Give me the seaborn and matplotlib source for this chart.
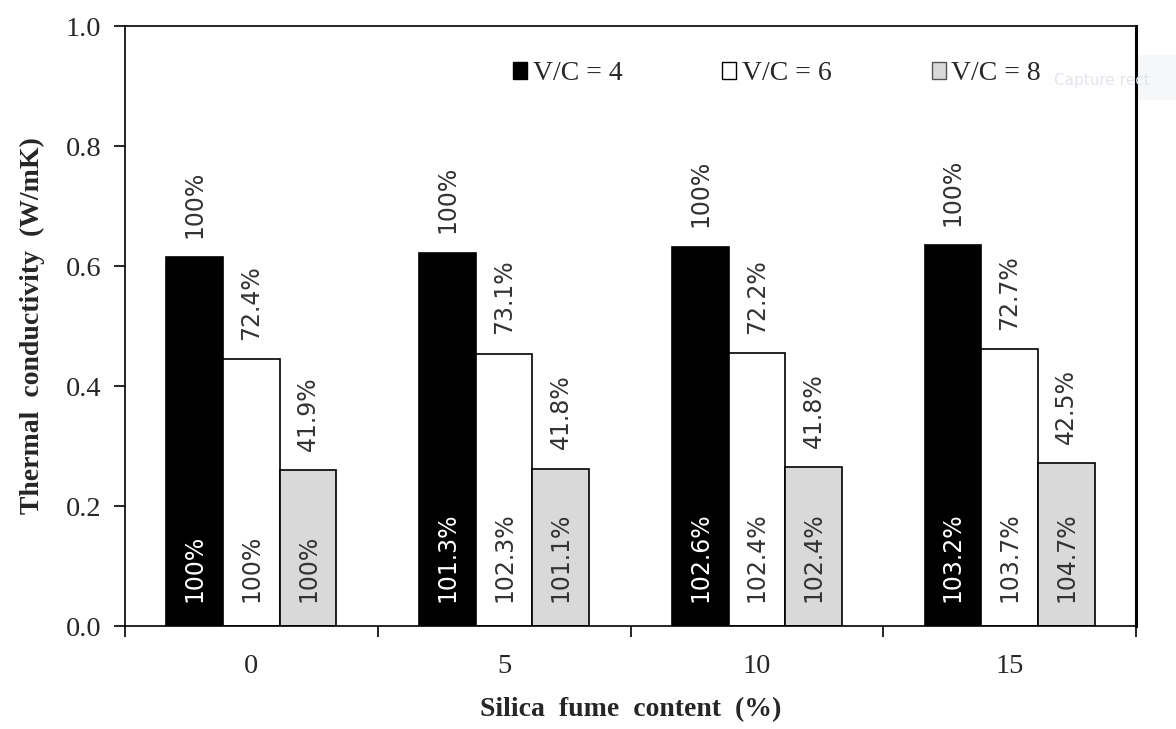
import matplotlib
matplotlib.use("Agg")
import matplotlib.pyplot as plt
from matplotlib.patches import Patch, Rectangle
import seaborn as sns
import pandas as pd

# ---- data ----
categories = ["0", "5", "10", "15"]
series_names = ["V/C = 4", "V/C = 6", "V/C = 8"]
vc4 = [0.615, 0.622, 0.632, 0.635]
vc6 = [0.445, 0.454, 0.455, 0.461]
vc8 = [0.260, 0.262, 0.265, 0.271]
top_labels = [
    ["100%", "100%", "100%", "100%"],
    ["72.4%", "73.1%", "72.2%", "72.7%"],
    ["41.9%", "41.8%", "41.8%", "42.5%"],
]
bottom_labels = [
    ["100%", "101.3%", "102.6%", "103.2%"],
    ["100%", "102.3%", "102.4%", "103.7%"],
    ["100%", "101.1%", "102.4%", "104.7%"],
]
colors = ["#000000", "#ffffff", "#d9d9d9"]
inner_text_colors = ["white", "#333333", "#333333"]

rows = []
for name, vals in zip(series_names, [vc4, vc6, vc8]):
    for c, v in zip(categories, vals):
        rows.append({"content": c, "k": v, "vc": name})
df = pd.DataFrame(rows)

sns.set_theme(style="white")
plt.rcParams["font.family"] = ["Liberation Serif", "DejaVu Serif"]

fig = plt.figure(figsize=(11.76, 7.29), dpi=100)
ax = fig.add_axes([125 / 1176, 1 - 626 / 729, 1011 / 1176, 600 / 729])

sns.barplot(data=df, x="content", y="k", hue="vc", order=categories,
            hue_order=series_names, palette=colors, width=0.673, gap=0,
            edgecolor="black", linewidth=1.2, saturation=1, legend=False, ax=ax)

# annotations
for i, cont in enumerate(ax.containers):
    for j, bar in enumerate(cont):
        xc = bar.get_x() + bar.get_width() / 2
        h = bar.get_height()
        ax.annotate(top_labels[i][j], (xc, h), xytext=(0, 14),
                    textcoords="offset points", rotation=90, ha="center",
                    va="bottom", fontsize=17, family="DejaVu Sans",
                    color="#333333")
        ax.annotate(bottom_labels[i][j], (xc, 0), xytext=(0, 17),
                    textcoords="offset points", rotation=90, ha="center",
                    va="bottom", fontsize=17, family="DejaVu Sans",
                    color=inner_text_colors[i])

ax.set_ylim(0, 1.0)
ax.set_xlim(-0.5, len(categories) - 0.5)
yt = [0, 0.2, 0.4, 0.6, 0.8, 1.0]
ax.set_yticks(yt)
ax.set_yticklabels([f"{t:.1f}" for t in yt], fontsize=20.5)
ax.set_xticks([b - 0.5 for b in range(len(categories) + 1)])
ax.set_xticklabels([])
ax.set_xticks(range(len(categories)), minor=True)
ax.set_xticklabels(categories, minor=True, fontsize=20.5)
ax.tick_params(axis="x", which="major", direction="out", length=8, width=1.2,
               color="black", bottom=True)
ax.tick_params(axis="x", which="minor", length=0, pad=20, bottom=True)
ax.tick_params(axis="y", direction="out", length=8, width=1.2, color="black",
               left=True, pad=9)

for s in ["left", "bottom", "top"]:
    ax.spines[s].set_color("black")
    ax.spines[s].set_linewidth(1.2)
ax.spines["right"].set_color("black")
ax.spines["right"].set_linewidth(2.2)

ax.set_xlabel("Silica  fume  content  (%)", fontsize=20, fontweight="bold", labelpad=13)
ax.set_ylabel("Thermal  conductivity  (W/mK)", fontsize=20, fontweight="bold", labelpad=15)

handles = [Patch(facecolor=c, edgecolor="black" if c != "#d9d9d9" else "#555555",
                 linewidth=1.0) for c in colors]
ax.legend(handles, series_names, ncol=3, loc="center",
          bbox_to_anchor=(0.645, 0.92), frameon=False, fontsize=20,
          handlelength=0.5, handleheight=0.55, handletextpad=0.2,
          columnspacing=3.6)

# faint screen-capture overlay seen in the reference
fig.patches.append(Rectangle((948 / 1176, 1 - 100 / 729), 228 / 1176, 45 / 729,
                             transform=fig.transFigure, facecolor="#f6f7f9",
                             edgecolor="none", zorder=-1))
fig.text(1054 / 1176, 1 - 81 / 729, "Capture rect", fontsize=11,
         family="DejaVu Sans", color="#e2e6ec", va="center")

fig.savefig("out.png", dpi=100)
